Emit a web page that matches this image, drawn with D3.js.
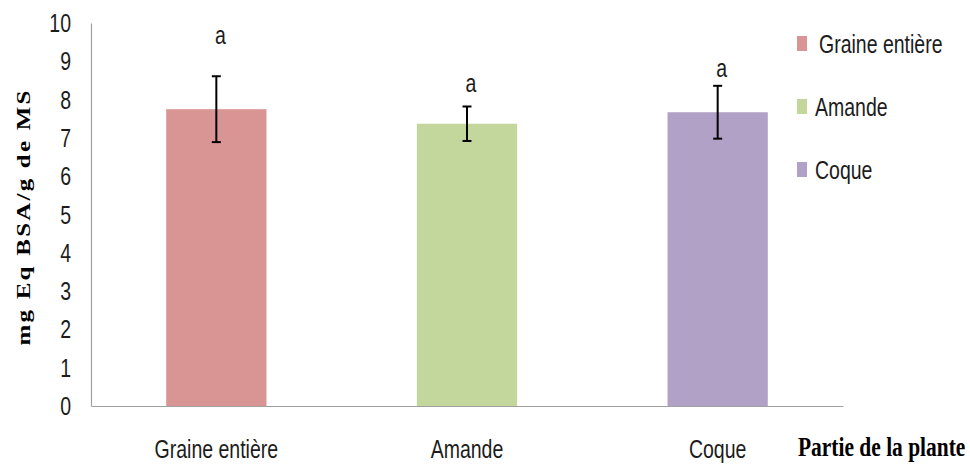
<!DOCTYPE html>
<html>
<head>
<meta charset="utf-8">
<script src="https://cdn.jsdelivr.net/npm/d3@7/dist/d3.min.js"></script>
<style>
  html, body { margin: 0; padding: 0; background: #fff; }
  svg { display: block; }
</style>
</head>
<body>
<script>
// Protein content per plant part (mg Eq BSA / g of dry matter)
const categories = ["Graine entière", "Amande", "Coque"];
const means      = [7.75, 7.37, 7.67];
const errors     = [0.86, 0.45, 0.69];
const letters    = ["a", "a", "a"];
const letterAt   = [9.45, 8.2, 8.6];   // value at which each significance letter sits
const colors     = ["#D99594", "#C3D69B", "#B2A1C7"];
const yTicks     = [0, 1, 2, 3, 4, 5, 6, 7, 8, 9, 10];
const yTitle     = "mg Eq BSA/g de MS";
const xTitle     = "Partie de la plante";

(function () {
const W = 970, H = 464;
const plotL = 91, plotR = 843, plotT = 23, plotB = 406;
const squash = 0.78;              // horizontal narrowing applied to all text
const ink = "#1c1c1c";

const svg = d3.select("body").append("svg").attr("width", W).attr("height", H);

const x = d3.scaleBand().domain(categories).range([plotL, plotR])
  .paddingInner(0.6).paddingOuter(0.3);
const y = d3.scaleLinear().domain([0, 10]).range([plotB, plotT]);

// helper: narrowed text at (px, py)
function label(g, px, py, txt, size, anchor) {
  return g.append("text")
    .attr("transform", `translate(${px},${py}) scale(${squash},1)`)
    .attr("text-anchor", anchor)
    .attr("font-family", "'Liberation Sans', Arial, sans-serif")
    .attr("font-size", size)
    .attr("fill", ink)
    .text(txt);
}

// bars
svg.append("g").selectAll("rect")
  .data(categories)
  .join("rect")
  .attr("x", d => x(d))
  .attr("width", x.bandwidth())
  .attr("y", (d, i) => y(means[i]))
  .attr("height", (d, i) => y(0) - y(means[i]))
  .attr("fill", (d, i) => colors[i]);

// axes (lines only, no tick marks)
const yAxis = svg.append("g")
  .attr("transform", `translate(${plotL},0)`)
  .call(d3.axisLeft(y).tickValues(yTicks).tickSize(0).tickFormat(""));
yAxis.select(".domain").attr("stroke", "#a0a0a0").attr("stroke-width", 1.2);

const xAxis = svg.append("g")
  .attr("transform", `translate(0,${plotB})`)
  .call(d3.axisBottom(x).tickSize(0).tickFormat(""));
xAxis.select(".domain").attr("stroke", "#a0a0a0").attr("stroke-width", 1.2);

// y tick labels
const tl = svg.append("g");
yTicks.forEach(v => {
  label(tl, 71, y(v) + 9, d3.format("d")(v), 25, "end");
});

// category labels
const cl = svg.append("g");
categories.forEach(c => {
  label(cl, x(c) + x.bandwidth() / 2, 458, c, 25, "middle");
});

// error bars
const eb = svg.append("g").attr("stroke", "#000").attr("stroke-width", 2);
categories.forEach((c, i) => {
  const cx = x(c) + x.bandwidth() / 2;
  const hi = y(means[i] + errors[i]), lo = y(means[i] - errors[i]);
  eb.append("line").attr("x1", cx).attr("x2", cx).attr("y1", hi).attr("y2", lo);
  eb.append("line").attr("x1", cx - 4.5).attr("x2", cx + 4.5).attr("y1", hi).attr("y2", hi);
  eb.append("line").attr("x1", cx - 4.5).attr("x2", cx + 4.5).attr("y1", lo).attr("y2", lo);
});

// significance letters
const ll = svg.append("g");
categories.forEach((c, i) => {
  label(ll, x(c) + x.bandwidth() / 2 + 4, y(letterAt[i]), letters[i], 25, "middle");
});

// legend
const lg = svg.append("g");
categories.forEach((c, i) => {
  const cy = 44 + i * 63;
  lg.append("rect").attr("x", 797).attr("y", cy - 8).attr("width", 10).attr("height", 15)
    .attr("fill", colors[i]);
  label(lg, i === 0 ? 819 : 815, cy + 8.5, c, 25, "start");
});

// axis titles
svg.append("text")
  .attr("transform", `translate(30,218) scale(${squash},1) rotate(-90)`)
  .attr("text-anchor", "middle")
  .attr("font-family", "'Liberation Serif', 'Times New Roman', serif")
  .attr("font-weight", "bold")
  .attr("font-size", 25)
  .attr("fill", "#000")
  .attr("textLength", 255)
  .attr("lengthAdjust", "spacing")
  .text(yTitle);

svg.append("text")
  .attr("transform", `translate(798,456) scale(${squash},1)`)
  .attr("text-anchor", "start")
  .attr("font-family", "'Liberation Serif', 'Times New Roman', serif")
  .attr("font-weight", "bold")
  .attr("font-size", 27.5)
  .attr("fill", "#000")
  .text(xTitle);
})();
</script>
</body>
</html>
